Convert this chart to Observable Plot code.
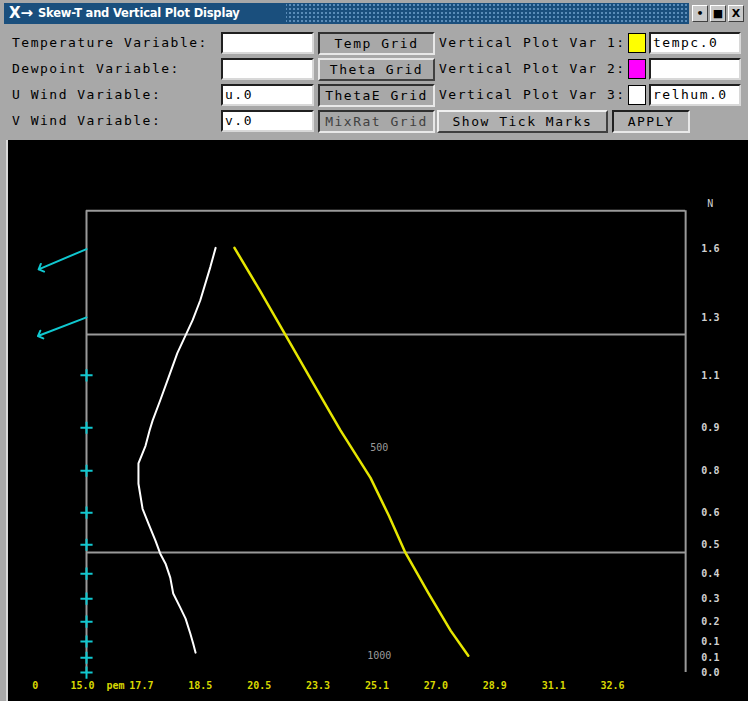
<!DOCTYPE html>
<html><head><meta charset="utf-8">
<script src="https://cdn.jsdelivr.net/npm/d3@7"></script>
<script src="https://cdn.jsdelivr.net/npm/@observablehq/plot@0.6"></script>
<style>
html,body{margin:0;padding:0;width:748px;height:701px;overflow:hidden;background:#a8a8a8;}
#win{position:relative;width:748px;height:701px;background:#a8a8a8;font-family:"DejaVu Sans Mono",monospace;}
.abs{position:absolute;box-sizing:border-box;}
#title{left:4px;top:3px;width:685px;height:21px;background:#1a4f7d;
  background-image:radial-gradient(#5a8cb8 0.8px, transparent 1px);background-size:4px 4px;}
#ttext{left:0;top:0;height:21px;width:282px;background:#1a4f7d;color:#fff;font:bold 11.5px "DejaVu Sans",sans-serif;line-height:21px;padding-left:34px;white-space:nowrap;letter-spacing:-0.2px;}
#ico{left:5px;top:1px;color:#fff;font:bold 15px "DejaVu Sans",sans-serif;line-height:19px;}
.wb{top:5px;width:16px;height:17px;background:#c8c8c8;border:1px solid #fff;border-right-color:#404040;border-bottom-color:#404040;font:bold 11px "DejaVu Sans",sans-serif;text-align:center;line-height:15px;color:#000;}
.lbl{font-size:13px;letter-spacing:1.5px;color:#000;white-space:nowrap;line-height:20px;}
.fld{width:93px;height:22px;background:#fff;border:2px solid #202020;border-right-color:#d8d8d8;border-bottom-color:#d8d8d8;font-size:13px;letter-spacing:1.5px;line-height:18px;padding-left:2px;white-space:nowrap;overflow:hidden;}
.btn{width:117px;height:23px;background:#a8a8a8;border:2px solid #303030;border-right-color:#e8e8e8;border-bottom-color:#e8e8e8;font-size:13px;letter-spacing:1.5px;line-height:19px;text-align:center;white-space:nowrap;}
.btn2{background:#b0b0b0;border:2px solid #f0f0f0;border-right-color:#404040;border-bottom-color:#404040;font-size:13px;letter-spacing:1.5px;line-height:19px;text-align:center;white-space:nowrap;height:23px;}
.sw{width:18px;height:20px;border:1px solid #000;}
#black{left:8px;top:140px;width:740px;height:561px;background:#000;}
#lframe{left:0;top:140px;width:8px;height:561px;background:#a8a8a8;border-right:2px solid #d8d8d8;}
</style></head>
<body><div id="win">
<div id="title" class="abs"><div id="ttext" class="abs">Skew-T and Vertical Plot Display</div><div id="ico" class="abs">X&#8594;</div></div>
<div class="abs wb" style="left:692px">&#8226;</div>
<div class="abs wb" style="left:710px">&#9632;</div>
<div class="abs wb" style="left:728px">X</div>

<div class="abs lbl" style="left:12px;top:33px">Temperature Variable:</div>
<div class="abs lbl" style="left:12px;top:59px">Dewpoint Variable:</div>
<div class="abs lbl" style="left:12px;top:85px">U Wind Variable:</div>
<div class="abs lbl" style="left:12px;top:111px">V Wind Variable:</div>

<div class="abs fld" style="left:221px;top:32px"></div>
<div class="abs fld" style="left:221px;top:58px"></div>
<div class="abs fld" style="left:221px;top:84px">u.0</div>
<div class="abs fld" style="left:221px;top:110px">v.0</div>

<div class="abs btn" style="left:318px;top:32px">Temp Grid</div>
<div class="abs btn" style="left:318px;top:58px;border-color:#e8e8e8 #404040 #404040 #e8e8e8">Theta Grid</div>
<div class="abs btn" style="left:318px;top:84px">ThetaE Grid</div>
<div class="abs btn" style="left:318px;top:110px;color:#404040">MixRat Grid</div>

<div class="abs lbl" style="left:439px;top:33px">Vertical Plot Var 1:</div>
<div class="abs lbl" style="left:439px;top:59px">Vertical Plot Var 2:</div>
<div class="abs lbl" style="left:439px;top:85px">Vertical Plot Var 3:</div>
<div class="abs sw" style="left:628px;top:33px;background:#ffff00"></div>
<div class="abs sw" style="left:628px;top:59px;background:#ff00ff"></div>
<div class="abs sw" style="left:628px;top:85px;background:#ffffff"></div>
<div class="abs fld" style="left:649px;top:32px;width:92px">tempc.0</div>
<div class="abs fld" style="left:649px;top:58px;width:92px"></div>
<div class="abs fld" style="left:649px;top:84px;width:92px">relhum.0</div>

<div class="abs btn2" style="left:437px;top:110px;width:171px">Show Tick Marks</div>
<div class="abs btn2" style="left:612px;top:110px;width:78px;border:2px solid #202020;border-right-color:#e8e8e8;border-bottom-color:#e8e8e8">APPLY</div>

<div id="lframe" class="abs"></div>
<div id="black" class="abs"></div>
</div>
<script>
// ---- data (x in skew-T temperature grid units, y in pressure hPa) ----
const xTickValues = [0.2, 1, 2, 3, 4, 5, 6, 7, 8, 9, 10];
const xTickLabels = ["0", "15.0", "17.7", "18.5", "20.5", "23.3", "25.1", "27.0", "28.9", "31.1", "32.6"];

const levelP = [258, 324, 393, 468, 540, 621, 691, 761, 827, 893, 954, 1007, 1058];
const levelLabels = ["1.6", "1.3", "1.1", "0.9", "0.8", "0.6", "0.5", "0.4", "0.3", "0.2", "0.1", "0.1", "0.0"];
const windDir = [247, 249, null, null, null, null, null, null, null, null, null, null, null];

const var3P = [257, 274, 306, 327, 344, 365, 396, 427, 457, 472, 497, 527, 564, 613, 644, 682, 712, 736, 771, 813, 852, 884, 929, 961, 990];
const var3X = [3.26, 3.17, 3.00, 2.87, 2.75, 2.61, 2.46, 2.32, 2.19, 2.14, 2.07, 1.95, 1.95, 2.02, 2.12, 2.24, 2.32, 2.41, 2.49, 2.54, 2.66, 2.75, 2.83, 2.88, 2.92];

const var1P = [257, 296, 344, 404, 472, 553, 627, 709, 811, 920, 1000];
const var1X = [3.58, 4.01, 4.45, 4.92, 5.38, 5.89, 6.20, 6.48, 6.87, 7.25, 7.55];

const isobarP = [500, 1000];
const isobarLabels = ["500", "1000"];
const boundaryP = [343, 709];

const frameLeft = 1.068, frameRight = 11.24, frameTop = 227, frameBottom = 1058;
const labelX = 11.66, isobarLabelX = 6.04, unitP = 222;

const levels = levelP.map((p, i) => ({p, label: levelLabels[i], dir: windDir[i]}));
const barbs = levels.filter(d => d.dir != null);
const calm = levels.filter(d => d.dir == null);
const var3 = var3P.map((p, i) => ({p, x: var3X[i]}));
const var1 = var1P.map((p, i) => ({p, x: var1X[i]}));
const xticks = xTickValues.map((x, i) => ({x, label: xTickLabels[i]}));

const cyan = "#10c8d0", gray = "#9a9a9a";
const font = "DejaVu Sans Mono, monospace";

const chart = Plot.plot({
  width: 740, height: 561, margin: 0,
  style: {background: "#000", overflow: "visible"},
  x: {domain: [0, 12], range: [15.1, 15.1 + 58.9 * 12], axis: null},
  y: {type: "log", domain: [179.7, 1165], range: [0, 561], axis: null},
  marks: [
    Plot.ruleY([frameTop], {x1: frameLeft, x2: frameRight, stroke: gray, strokeWidth: 2}),
    Plot.ruleY(boundaryP, {x1: frameLeft, x2: frameRight, stroke: gray, strokeWidth: 2}),
    Plot.ruleX([frameLeft, frameRight], {y1: frameTop, y2: frameBottom, stroke: gray, strokeWidth: 2}),
    Plot.line(var3, {x: "x", y: "p", stroke: "#ffffff", strokeWidth: 2}),
    Plot.line(var1, {x: "x", y: "p", stroke: "#e6e600", strokeWidth: 2.5}),
    Plot.dot(calm, {x: frameLeft, y: "p", symbol: "plus", r: 4, stroke: cyan, strokeWidth: 2}),
    Plot.vector(barbs, {x: frameLeft, y: "p", rotate: "dir", length: 52, anchor: "start", r: 1.4, stroke: cyan, strokeWidth: 2}),
    Plot.text(levels, {x: labelX, y: "p", text: "label", fill: "#d0d0d0", fontSize: 10, fontFamily: font, fontWeight: "bold"}),
    Plot.text(["N"], {x: labelX, y: unitP, text: d => d, fill: "#d0d0d0", fontSize: 10, fontFamily: font}),
    Plot.text(isobarP, {x: isobarLabelX, y: d => d, text: (d, i) => isobarLabels[i], fill: gray, fontSize: 10, fontFamily: font}),
    Plot.text(xticks, {x: "x", frameAnchor: "bottom", dy: -13, text: "label", fill: "#d8d800", fontSize: 10, fontFamily: font, fontWeight: "bold"}),
    Plot.text(["pem"], {x: 1.56, frameAnchor: "bottom", dy: -13, text: d => d, fill: "#d8d800", fontSize: 10, fontFamily: font, fontWeight: "bold"})
  ]
});
document.getElementById("black").appendChild(chart);
</script>
</body></html>
